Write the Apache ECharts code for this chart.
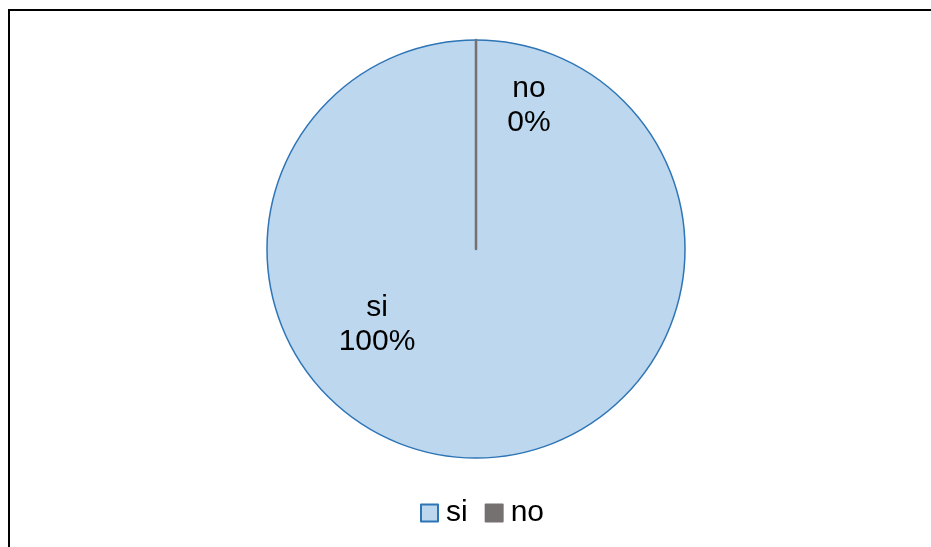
<!DOCTYPE html>
<html>
<head>
<meta charset="utf-8">
<title>si / no</title>
<script src="https://cdn.jsdelivr.net/npm/echarts@6/dist/echarts.min.js"></script>
<style>
  html, body { margin: 0; padding: 0; background: #fff; }
  #chart { width: 931px; height: 547px; }
</style>
</head>
<body>
<div id="chart"></div>
<script>
const categories = ["si", "no"];
const values = [100, 0];
const percentLabels = ["100%", "0%"];

const sliceColors = ["#BDD7EE", "#767171"];
const sliceBorders = ["#2E75B6", "#767171"];
// label centres, Excel puts them off the slice middles
const labelSpots = [
  [377, 325],
  [529, 106],
];

const chart = echarts.init(
  document.getElementById("chart"),
);

chart.setOption({
  animation: false,
  graphic: [
    {
      type: "rect",
      shape: { x: 9, y: 10, width: 1200, height: 900 },
      style: { fill: "none", stroke: "#000", lineWidth: 2 },
      silent: true,
    },
  ],
  legend: {
    bottom: 19,
    left: 420,
    padding: 0,
    icon: "rect",
    itemWidth: 17,
    itemHeight: 17,
    itemGap: 17,
    textStyle: {
      fontFamily: "Liberation Sans",
      fontSize: 30,
      color: "#000",
      padding: [0, 0, 0, 3],
    },
    data: categories,
  },
  series: [
    {
      type: "pie",
      center: [476, 249],
      radius: 209,
      startAngle: 90,
      clockwise: true,
      avoidLabelOverlap: false,
      label: {
        show: true,
        position: "inside",
        fontFamily: "Liberation Sans",
        fontSize: 30,
        lineHeight: 34,
        color: "#000",
        formatter: (params) => {
          return [
            params.name,
            percentLabels[params.dataIndex],
          ].join("\n");
        },
      },
      labelLine: { show: false },
      labelLayout: (params) => {
        const spot = labelSpots[params.dataIndex];
        return {
          x: spot[0],
          y: spot[1],
          align: "center",
          verticalAlign: "middle",
        };
      },
      emphasis: { disabled: true },
      data: categories.map((name, index) => {
        return {
          name,
          value: values[index],
          itemStyle: {
            color: sliceColors[index],
            borderColor: sliceBorders[index],
            borderWidth: index === 0 ? 1.5 : 2.5,
          },
        };
      }),
    },
  ],
});
</script>
</body>
</html>
